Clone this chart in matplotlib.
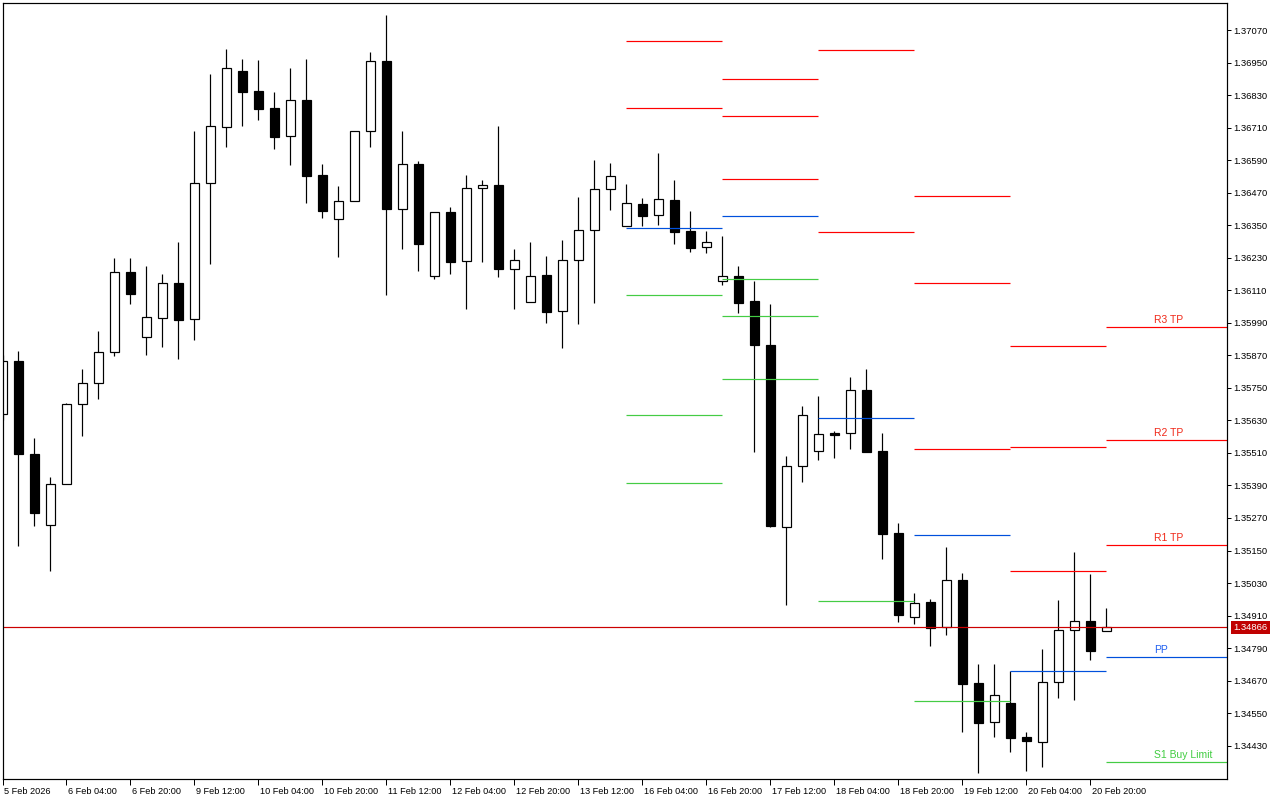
import matplotlib
matplotlib.use('Agg')
import matplotlib.pyplot as plt
from matplotlib.patches import Rectangle
from matplotlib.transforms import ScaledTranslation, blended_transform_factory

plt.rcParams['font.family'] = ['Liberation Sans', 'DejaVu Sans']

# H4 candles, 5 Feb 2026 12:00 .. 20 Feb 2026
opens = [1.35654, 1.35849, 1.35506, 1.35244, 1.35395, 1.35690, 1.35768, 1.35882, 1.36177, 1.35938,
         1.36008, 1.36137, 1.36004, 1.36506, 1.36712, 1.36919, 1.36845, 1.36782, 1.36679, 1.36812,
         1.36535, 1.36373, 1.36439, 1.36697, 1.36956, 1.36410, 1.36576, 1.36163, 1.36399, 1.36218,
         1.36487, 1.36498, 1.36188, 1.36067, 1.36166, 1.36033, 1.36222, 1.36332, 1.36483, 1.36347,
         1.36428, 1.36388, 1.36443, 1.36329, 1.36270, 1.36144, 1.36163, 1.36070, 1.35908, 1.35237,
         1.35462, 1.35517, 1.35583, 1.35583, 1.35742, 1.35517, 1.35215, 1.34905, 1.34960, 1.34868,
         1.35041, 1.34661, 1.34517, 1.34587, 1.34462, 1.34444, 1.34665, 1.34857, 1.34890, 1.34853]
highs = [1.35871, 1.35886, 1.35565, 1.35421, 1.35694, 1.35820, 1.35960, 1.36229, 1.36229, 1.36199,
         1.36170, 1.36288, 1.36697, 1.36908, 1.37000, 1.36963, 1.36959, 1.36841, 1.36930, 1.36963,
         1.36576, 1.36495, 1.36697, 1.36989, 1.37125, 1.36697, 1.36587, 1.36399, 1.36417, 1.36535,
         1.36517, 1.36716, 1.36262, 1.36288, 1.36236, 1.36295, 1.36454, 1.36590, 1.36579, 1.36502,
         1.36450, 1.36616, 1.36517, 1.36402, 1.36329, 1.36310, 1.36199, 1.36144, 1.36059, 1.35499,
         1.35683, 1.35720, 1.35591, 1.35790, 1.35820, 1.35583, 1.35251, 1.34993, 1.34971, 1.35163,
         1.35067, 1.34731, 1.34731, 1.34706, 1.34480, 1.34787, 1.34967, 1.35144, 1.35063, 1.34938]
lows = [1.35631, 1.35167, 1.35240, 1.35074, 1.35395, 1.35572, 1.35709, 1.35867, 1.36059, 1.35871,
        1.35901, 1.35856, 1.35927, 1.36207, 1.36638, 1.36716, 1.36738, 1.36631, 1.36572, 1.36432,
        1.36377, 1.36233, 1.36439, 1.36638, 1.36092, 1.36262, 1.36181, 1.36151, 1.36170, 1.36041,
        1.36214, 1.36159, 1.36041, 1.36067, 1.35989, 1.35897, 1.35986, 1.36063, 1.36406, 1.36347,
        1.36347, 1.36351, 1.36281, 1.36251, 1.36247, 1.36129, 1.36026, 1.35513, 1.35237, 1.34949,
        1.35403, 1.35484, 1.35491, 1.35524, 1.35513, 1.35119, 1.34886, 1.34879, 1.34798, 1.34838,
        1.34480, 1.34329, 1.34462, 1.34407, 1.34337, 1.34351, 1.34606, 1.34599, 1.34746, 1.34853]
closes = [1.35849, 1.35506, 1.35288, 1.35395, 1.35690, 1.35768, 1.35882, 1.36177, 1.36096, 1.36011,
          1.36137, 1.36000, 1.36506, 1.36716, 1.36930, 1.36841, 1.36779, 1.36675, 1.36812, 1.36531,
          1.36402, 1.36439, 1.36697, 1.36956, 1.36410, 1.36576, 1.36281, 1.36399, 1.36214, 1.36487,
          1.36498, 1.36188, 1.36222, 1.36163, 1.36030, 1.36222, 1.36332, 1.36483, 1.36531, 1.36432,
          1.36384, 1.36447, 1.36325, 1.36266, 1.36288, 1.36163, 1.36063, 1.35908, 1.35240, 1.35462,
          1.35650, 1.35580, 1.35576, 1.35742, 1.35513, 1.35211, 1.34912, 1.34956, 1.34864, 1.35041,
          1.34658, 1.34514, 1.34617, 1.34458, 1.34447, 1.34665, 1.34857, 1.34890, 1.34779, 1.34866]

time_labels = ['5 Feb 2026', '6 Feb 04:00', '6 Feb 20:00', '9 Feb 12:00', '10 Feb 04:00',
               '10 Feb 20:00', '11 Feb 12:00', '12 Feb 04:00', '12 Feb 20:00', '13 Feb 12:00',
               '16 Feb 04:00', '16 Feb 20:00', '17 Feb 12:00', '18 Feb 04:00', '18 Feb 20:00',
               '19 Feb 12:00', '20 Feb 04:00', '20 Feb 20:00']
price_ticks = [1.34430, 1.34550, 1.34670, 1.34790, 1.34910, 1.35030, 1.35150, 1.35270,
               1.35390, 1.35510, 1.35630, 1.35750, 1.35870, 1.35990, 1.36110, 1.36230,
               1.36350, 1.36470, 1.36590, 1.36710, 1.36830, 1.36950, 1.37070]
last_price = 1.34866

# daily pivot levels of the previous days (first candle of each day)
pivot_start = [39, 45, 51, 57, 63]
pivot_res = [[1.37029, 1.36782],
             [1.36889, 1.36753, 1.36520],
             [1.36996, 1.36325],
             [1.36458, 1.36137, 1.35524],
             [1.35904, 1.35532, 1.35074]]
pivot_pp = [1.36340, 1.36384, 1.35639, 1.35207, 1.34706]
pivot_sup = [[1.36092, 1.35650, 1.35399],
             [1.36151, 1.36015, 1.35783],
             [1.34964],
             [1.34595],
             []]

# today's levels with labels
level_names = ['R3 TP', 'R2 TP', 'R1 TP', 'PP', 'S1 Buy Limit']
level_values = [1.35974, 1.35558, 1.35170, 1.34757, 1.34370]
level_kind = ['r', 'r', 'r', 'pp', 's']

RED = '#FF0000'
BLUE = '#0050DC'
GREEN = '#44CC44'
line_col = {'r': RED, 'pp': BLUE, 's': GREEN}
text_col = {'r': '#F02818', 'pp': '#2060F0', 's': '#40CC40'}
PX = 0.72  # one pixel in points

fig = plt.figure(figsize=(12.8, 8), dpi=100)
ax = fig.add_axes([2.5 / 1280, 21 / 800, 1224.8 / 1280, 776.3 / 800])
ax.set_facecolor('white')

n = len(opens)
xmin, xmax = 0.0125, 76.5625
ax.set_xlim(xmin, xmax)
ax.set_ylim(1.34307, 1.37171)

# candles
w = 0.6
for i in range(n):
    o, h, l, c = opens[i], highs[i], lows[i], closes[i]
    ax.vlines(i, l, h, color='black', lw=PX * 1.2, zorder=2)
    bull = c >= o
    ax.add_patch(Rectangle((i - w / 2, min(o, c)), w, max(abs(c - o), 0.00001),
                           facecolor='white' if bull else 'black',
                           edgecolor='black', lw=PX * 1.2, zorder=3))

# old pivots
for k, s in enumerate(pivot_start):
    for v in pivot_res[k]:
        ax.hlines(v, s, s + 6, color=RED, lw=PX * 1.2, zorder=4)
    ax.hlines(pivot_pp[k], s, s + 6, color=BLUE, lw=PX * 1.2, zorder=4)
    for v in pivot_sup[k]:
        ax.hlines(v, s, s + 6, color=GREEN, lw=PX * 1.2, zorder=4)

# today's levels
start = n - 1
up = ScaledTranslation(0, 2 / 100, fig.dpi_scale_trans)
for name, v, kind in zip(level_names, level_values, level_kind):
    ax.hlines(v, start, xmax, color=line_col[kind], lw=PX * 1.2, zorder=4)
    ax.text(start + 3, v, name, color=text_col[kind], fontsize=7.5, ha='left', va='bottom',
            transform=ax.transData + up, zorder=5)

# current price
ax.axhline(last_price, color='#CC0000', lw=PX * 1.2, zorder=4)
ax.annotate(f'{last_price:.5f}', xy=(1.0, last_price), xycoords=('axes fraction', 'data'),
            xytext=(4.5, 0), textcoords='offset points', ha='left', va='center',
            color='white', fontsize=6.8, annotation_clip=False,
            bbox=dict(boxstyle='square,pad=0.25', facecolor='#C00000', edgecolor='none'))

# axes styling
for sp in ax.spines.values():
    sp.set_linewidth(PX * 1.2)
    sp.set_color('black')
    sp.set_zorder(6)

ax.yaxis.tick_right()
ax.set_yticks(price_ticks)
ax.set_yticklabels([f'{p:.5f}' for p in price_ticks])
ax.tick_params(axis='y', direction='out', length=3, width=PX, pad=1, labelsize=6.8)

ax.set_xticks(range(0, n, 4))
ax.set_xticklabels(time_labels)
ax.tick_params(axis='x', direction='out', length=4.3, width=PX, pad=1.5, labelsize=6.6)
shift = ScaledTranslation(2 / 100, 0, fig.dpi_scale_trans)
for lbl in ax.get_xticklabels():
    lbl.set_horizontalalignment('left')
    lbl.set_transform(lbl.get_transform() + shift)

fig.savefig('out.png', dpi=100)
